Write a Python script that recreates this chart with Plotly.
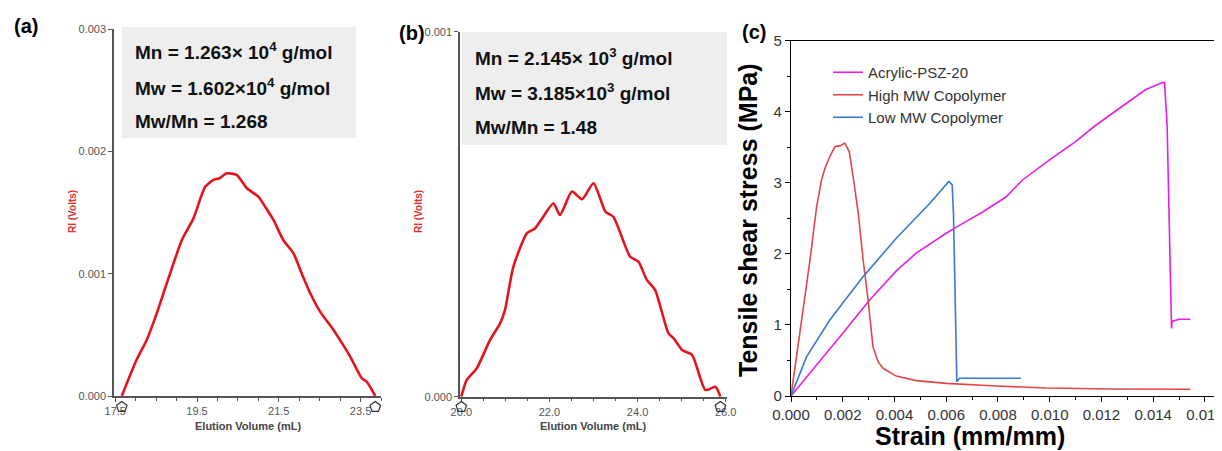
import plotly.graph_objects as go

# ---------------- data ----------------
# Panel (a): GPC trace, high MW copolymer
a_vol = [17.66, 18.02, 18.27, 18.52, 18.76, 19.13, 19.41, 19.70, 19.90, 20.05, 20.23, 20.47,
         20.72, 21.00, 21.20, 21.37, 21.61, 21.86, 22.05, 22.27, 22.51, 22.84, 23.05, 23.25,
         23.53, 23.65, 23.86]
a_ri = [0.0, 0.000294, 0.000458, 0.00068, 0.00092, 0.001275, 0.00145, 0.00171, 0.001766, 0.00178,
        0.00182, 0.001807, 0.001698, 0.00163, 0.00153, 0.001439, 0.001275, 0.001166, 0.00101,
        0.00084, 0.00069, 0.00054, 0.00043, 0.00032, 0.000145, 0.000117, 0.0]
a_marks = [17.66, 23.86]
a_ticks = [17.5, 19.5, 21.5, 23.5]
a_yticks = [0.000, 0.001, 0.002, 0.003]
a_text = ["Mn = 1.263× 10<sup>4</sup> g/mol", "Mw = 1.602×10<sup>4</sup> g/mol", "Mw/Mn = 1.268"]

# Panel (b): GPC trace, low MW copolymer
b_vol = [20.0, 20.12, 20.35, 20.65, 20.88, 20.99, 21.18, 21.49, 21.67, 21.86, 22.09, 22.24,
         22.51, 22.74, 23.0, 23.27, 23.45, 23.83, 24.02, 24.21, 24.40, 24.70, 24.82, 25.01,
         25.24, 25.54, 25.77, 25.88]
b_ri = [0.0, 0.0000457, 0.0000777, 0.000155, 0.000201, 0.000237, 0.000356, 0.000448, 0.000461,
        0.000493, 0.00053, 0.000498, 0.000562, 0.000541, 0.000585, 0.000507, 0.000493, 0.000384,
        0.00037, 0.00032, 0.000292, 0.000174, 0.00016, 0.000128, 0.000114, 0.0000183, 0.000027, 0.0]
b_marks = [20.0, 25.88]
b_ticks = [20.0, 22.0, 24.0, 26.0]
b_yticks = [0.000, 0.001]
b_text = ["Mn = 2.145× 10<sup>3</sup> g/mol", "Mw = 3.185×10<sup>3</sup> g/mol", "Mw/Mn = 1.48"]

# Panel (c): tensile shear stress vs strain
psz_strain = [0.0, 0.000835, 0.00189, 0.00304, 0.00407, 0.00484, 0.0060, 0.00664, 0.00741, 0.00831,
              0.00895, 0.00998, 0.0110, 0.01178, 0.0128, 0.0137, 0.01435, 0.01444, 0.01454,
              0.01471, 0.01473, 0.0150, 0.01544]
psz_stress = [0.0, 0.366, 0.835, 1.35, 1.76, 2.01, 2.29, 2.43, 2.59, 2.80, 3.04, 3.32, 3.58, 3.81,
              4.07, 4.31, 4.41, 4.41, 3.79, 0.95, 1.05, 1.08, 1.08]
high_strain = [0.0, 0.000347, 0.000732, 0.00099, 0.00118, 0.00131, 0.0015, 0.0017, 0.00189, 0.00208,
               0.00225, 0.0024, 0.0026, 0.00279, 0.00298, 0.00317, 0.00337, 0.00356, 0.00407,
               0.00484, 0.006, 0.00793, 0.00985, 0.01242, 0.01544]
high_stress = [0.0, 0.88, 1.91, 2.66, 3.04, 3.20, 3.37, 3.51, 3.52, 3.56, 3.44, 3.09, 2.57, 1.91,
               1.35, 0.69, 0.48, 0.39, 0.28, 0.216, 0.178, 0.14, 0.113, 0.098, 0.094]
low_strain = [0.0, 0.0006, 0.0015, 0.00279, 0.00407, 0.00536, 0.0061, 0.00623, 0.00628, 0.00641,
              0.00651, 0.00889]
low_stress = [0.0, 0.55, 1.07, 1.68, 2.22, 2.71, 3.02, 2.97, 2.57, 0.20, 0.249, 0.249]
series_names = ["Acrylic-PSZ-20", "High MW Copolymer", "Low MW Copolymer"]
c_xticks = [0.000, 0.002, 0.004, 0.006, 0.008, 0.010, 0.012, 0.014, 0.016]
c_yticks = [0, 1, 2, 3, 4, 5]

# ---------------- figure ----------------
OFF = 8  # page body margin
W, H = 1222 - OFF, 451 - OFF
def px(x):
    return (x - OFF) / W
def py(y):
    return 1 - (y - OFF) / H

fig = go.Figure()
GPC_RED = "#e4141c"
AX_GRAY = "#555555"

fig.add_trace(go.Scatter(x=a_vol, y=a_ri, mode="lines", line=dict(color=GPC_RED, width=2.6, shape="spline", smoothing=0.6),
                         xaxis="x", yaxis="y", showlegend=False))
fig.add_trace(go.Scatter(x=a_marks, y=[0.5] * len(a_marks), mode="markers", cliponaxis=False,
                         marker=dict(symbol="pentagon-open", size=11, color="#333", line=dict(width=1.2)),
                         xaxis="x", yaxis="y4", showlegend=False))
fig.add_trace(go.Scatter(x=b_vol, y=b_ri, mode="lines", line=dict(color=GPC_RED, width=2.6, shape="spline", smoothing=0.6),
                         xaxis="x2", yaxis="y2", showlegend=False))
fig.add_trace(go.Scatter(x=b_marks, y=[0.5] * len(b_marks), mode="markers", cliponaxis=False,
                         marker=dict(symbol="pentagon-open", size=11, color="#333", line=dict(width=1.2)),
                         xaxis="x2", yaxis="y5", showlegend=False))

c_colors = ["#e41fe6", "#e04848", "#3a78d4"]
for xs, ys, nm, col in zip([psz_strain, high_strain, low_strain], [psz_stress, high_stress, low_stress],
                           series_names, c_colors):
    fig.add_trace(go.Scatter(x=xs, y=ys, mode="lines", name=nm, line=dict(color=col, width=1.6),
                             xaxis="x3", yaxis="y3"))

gpc_tickfont = dict(family="Liberation Sans, Arial", size=11, color="#555")
def gpc_xaxis(dom, rng, tv, anchor):
    return dict(domain=dom, range=rng, anchor=anchor, tickvals=tv, ticktext=[f"{v:.1f}" for v in tv],
                showline=True, linecolor=AX_GRAY, linewidth=1.5, ticks="outside", ticklen=4, tickcolor=AX_GRAY,
                minor=dict(dtick=0.5, tick0=tv[0], ticks="outside", ticklen=3, tickcolor=AX_GRAY),
                showgrid=False, zeroline=False, tickfont=gpc_tickfont, automargin=False,
                ticklabeloverflow="allow")
def gpc_yaxis(dom, rng, tv, anchor):
    return dict(domain=dom, range=rng, anchor=anchor, tickvals=tv, ticktext=[f"{v:.3f}" for v in tv],
                showline=True, linecolor=AX_GRAY, linewidth=1.5, ticks="outside", ticklen=4, tickcolor=AX_GRAY,
                showgrid=False, zeroline=False, tickfont=gpc_tickfont, automargin=False)
def hidden_y(dom, anchor):
    return dict(domain=dom, range=[0, 1], anchor=anchor, visible=False, fixedrange=True)

c_font = dict(family="Liberation Sans, Arial", size=15, color="#333")
fig.update_layout(
    width=W, height=H, margin=dict(l=0, r=0, t=0, b=0),
    paper_bgcolor="white", plot_bgcolor="rgba(0,0,0,0)",
    xaxis=gpc_xaxis([px(114), px(381)], [17.47, 24.0], a_ticks, "y"),
    yaxis=gpc_yaxis([py(396), py(29)], [0, 0.003], a_yticks, "x"),
    yaxis4=hidden_y([py(414), py(400)], "x"),
    xaxis2=gpc_xaxis([px(460), px(727)], [19.97, 26.03], b_ticks, "y2"),
    yaxis2=gpc_yaxis([py(396.7), py(31.7)], [0, 0.001], b_yticks, "x2"),
    yaxis5=hidden_y([py(414), py(400)], "x2"),
    xaxis3=dict(domain=[px(791), 1.0], range=[0, 0.01666], anchor="y3", tickvals=c_xticks,
                ticktext=[f"{v:.3f}" for v in c_xticks], showline=True, mirror=True, linecolor="black",
                linewidth=1.2, ticks="outside", ticklen=5, tickcolor="black",
                minor=dict(dtick=0.001, tick0=0, ticks="outside", ticklen=3, tickcolor="black"),
                showgrid=False, zeroline=False, tickfont=c_font, automargin=False,
                ticklabeloverflow="allow"),
    yaxis3=dict(domain=[py(396), py(40.7)], range=[0, 5], anchor="x3", tickvals=c_yticks,
                showline=True, linecolor="black", linewidth=1.2, ticks="outside", ticklen=5, tickcolor="black",
                minor=dict(dtick=0.5, tick0=0, ticks="outside", ticklen=3, tickcolor="black"),
                showgrid=False, zeroline=False, tickfont=c_font, automargin=False),
    legend=dict(x=px(828), y=py(56), xanchor="left", yanchor="top", bgcolor="rgba(0,0,0,0)",
                font=dict(family="Liberation Sans, Arial", size=15, color="#333"), tracegroupgap=0,
                itemwidth=30),
    showlegend=True,
)

# grey info boxes
fig.add_shape(type="rect", xref="paper", yref="paper", x0=px(122), x1=px(356), y0=py(138), y1=py(27),
              fillcolor="#eeeeee", line=dict(width=0), layer="below")
fig.add_shape(type="rect", xref="paper", yref="paper", x0=px(462), x1=px(727), y0=py(145), y1=py(32),
              fillcolor="#eeeeee", line=dict(width=0), layer="below")

box_font = dict(family="Liberation Sans, Arial", size=19, color="#111")
for txt, yy in zip(a_text, [51, 87, 122]):
    fig.add_annotation(text=f"<b>{txt}</b>", xref="paper", yref="paper", x=px(133), y=py(yy),
                       xanchor="left", yanchor="middle", showarrow=False, font=box_font)
for txt, yy in zip(b_text, [57, 92, 127]):
    fig.add_annotation(text=f"<b>{txt}</b>", xref="paper", yref="paper", x=px(473), y=py(yy),
                       xanchor="left", yanchor="middle", showarrow=False, font=box_font)

# axis titles
gtitle = dict(family="Liberation Sans, Arial", size=11, color="#444")
for xc in [248, 593]:
    fig.add_annotation(text="<b>Elution Volume (mL)</b>", xref="paper", yref="paper", x=px(xc), y=py(426),
                       xanchor="center", yanchor="middle", showarrow=False, font=gtitle)
for xc in [72, 418]:
    fig.add_annotation(text="<b>RI (Volts)</b>", xref="paper", yref="paper", x=px(xc), y=py(212),
                       xanchor="center", yanchor="middle", showarrow=False, textangle=-90,
                       font=dict(family="Liberation Sans, Arial", size=10, color="#e03030"))
fig.add_annotation(text="<b>Strain (mm/mm)</b>", xref="paper", yref="paper", x=px(970), y=py(436),
                   xanchor="center", yanchor="middle", showarrow=False,
                   font=dict(family="Liberation Sans, Arial", size=25, color="black"))
fig.add_annotation(text="<b>Tensile shear stress (MPa)</b>", xref="paper", yref="paper", x=px(748), y=py(220),
                   xanchor="center", yanchor="middle", showarrow=False, textangle=-90,
                   font=dict(family="Liberation Sans, Arial", size=25, color="black"))

# panel labels
plab = dict(family="Liberation Sans, Arial", size=20, color="black")
for lab, xx, yy in [("(a)", 26, 26), ("(b)", 412, 33), ("(c)", 754, 32)]:
    fig.add_annotation(text=f"<b>{lab}</b>", xref="paper", yref="paper", x=px(xx), y=py(yy),
                       xanchor="center", yanchor="middle", showarrow=False, font=plab)

fig.write_html("out.html")
